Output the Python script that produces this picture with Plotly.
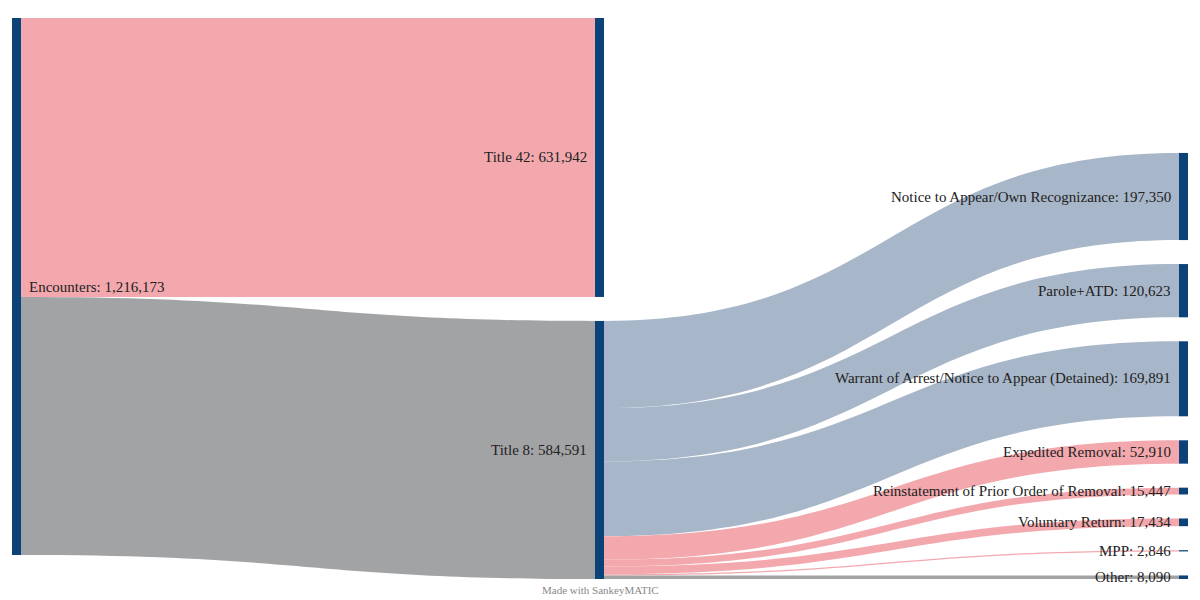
import plotly.graph_objects as go

# ---- data ----
node_names = [
    "Encounters", "Title 42", "Title 8",
    "Notice to Appear/Own Recognizance", "Parole+ATD",
    "Warrant of Arrest/Notice to Appear (Detained)", "Expedited Removal",
    "Reinstatement of Prior Order of Removal", "Voluntary Return", "MPP", "Other",
]
node_totals = [1216173, 631942, 584591, 197350, 120623, 169891, 52910, 15447, 17434, 2846, 8090]
link_sources = ["Encounters", "Encounters", "Title 8", "Title 8", "Title 8", "Title 8",
                "Title 8", "Title 8", "Title 8", "Title 8"]
link_targets = ["Title 42", "Title 8", "Notice to Appear/Own Recognizance", "Parole+ATD",
                "Warrant of Arrest/Notice to Appear (Detained)", "Expedited Removal",
                "Reinstatement of Prior Order of Removal", "Voluntary Return", "MPP", "Other"]
link_values = [631942, 584591, 197350, 120623, 169891, 52910, 15447, 17434, 2846, 8090]
node_columns = [0, 1, 1, 2, 2, 2, 2, 2, 2, 2, 2]

# ---- styling ----
W, HGT = 1200, 600
MT, MB = 18, 21
H = HGT - MT - MB
PAD = 24
THICK = 9
LABEL_GAP = 6
col_x_px = [16.5, 599.5, 1183.5]
PINK, GRAY, BLUE = "#f2a8ad", "#a2a3a5", "#a7b6c8"
link_colors = [PINK, GRAY, BLUE, BLUE, BLUE, PINK, PINK, PINK, PINK, GRAY]
NODE_COLOR = "#0b4378"
FONT = dict(family="Liberation Serif", size=15, color="#222222")

idx = {n: i for i, n in enumerate(node_names)}
src = [idx[s] for s in link_sources]
tgt = [idx[t] for t in link_targets]

inflow = [0] * len(node_names)
outflow = [0] * len(node_names)
for s, t, v in zip(src, tgt, link_values):
    outflow[s] += v
    inflow[t] += v
flow = [max(a, b) for a, b in zip(inflow, outflow)]

cols = {}
for i, c in enumerate(node_columns):
    cols.setdefault(c, []).append(i)
ky = min((H - (len(m) - 1) * PAD) / sum(flow[i] for i in m) for m in cols.values())

sinks = [i for i in range(len(node_names)) if outflow[i] == 0]
plotly_pad = (H - ky * sum(flow[i] for i in sinks)) / (len(sinks) - 1)

ys = [0.0] * len(node_names)
for c, members in cols.items():
    heights = [flow[i] * ky for i in members]
    total = sum(heights) + (len(members) - 1) * PAD
    top = 0 if c < 2 else H - total
    for i, h in zip(members, heights):
        ys[i] = (top + h / 2) / H
        top += h + PAD
xs = [col_x_px[c] / W for c in node_columns]

full_labels = [f"{n}: {v:,}" for n, v in zip(node_names, node_totals)]

fig = go.Figure(go.Sankey(
    arrangement="fixed",
    node=dict(
        label=[""] * len(node_names),
        x=xs, y=ys,
        pad=plotly_pad, thickness=THICK,
        color=NODE_COLOR,
        line=dict(width=0),
        hoverinfo="none",
    ),
    link=dict(source=src, target=tgt, value=link_values, color=link_colors,
              hoverinfo="none"),
))
for i in range(len(node_names)):
    c = node_columns[i]
    if c == 0:
        ax, anchor = (col_x_px[c] + THICK / 2 + LABEL_GAP) / W, "left"
    else:
        ax, anchor = (col_x_px[c] - THICK / 2 - LABEL_GAP) / W, "right"
    fig.add_annotation(
        text=full_labels[i], x=ax, xanchor=anchor,
        y=1 - ys[i], yanchor="middle",
        xref="paper", yref="paper", showarrow=False, font=FONT)

fig.add_annotation(text="Made with SankeyMATIC", x=0.5, y=-0.005, xref="paper", yref="paper",
                   yanchor="top", showarrow=False,
                   font=dict(family="Liberation Serif", size=11, color="#888888"))
fig.update_layout(width=W, height=HGT, margin=dict(l=0, r=0, t=MT, b=MB),
                  paper_bgcolor="white", plot_bgcolor="white")
fig.write_html("out.html")
